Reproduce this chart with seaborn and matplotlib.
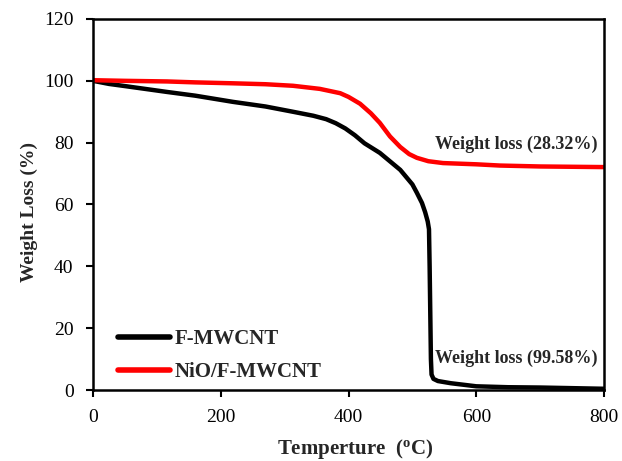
import matplotlib
matplotlib.use("Agg")
import matplotlib.pyplot as plt
import seaborn as sns
import pandas as pd

# F-MWCNT
temp_f = [0, 25, 50, 116, 160, 219, 270, 313, 345, 365, 380, 395, 410, 425, 449, 481, 500, 507, 515, 520, 524, 526, 527, 528, 529, 530, 533, 540, 560, 600, 650, 700, 800]
wt_f = [100, 99.0, 98.3, 96.4, 95.2, 93.2, 91.7, 90.0, 88.7, 87.6, 86.3, 84.6, 82.4, 79.8, 76.7, 71.2, 66.5, 63.8, 60.5, 57.5, 54.5, 52.0, 40.0, 25.0, 10.0, 5.0, 3.6, 2.9, 2.2, 1.2, 0.9, 0.8, 0.4]

# NiO/F-MWCNT
temp_n = [0, 50, 116, 160, 219, 270, 313, 355, 387, 400, 418, 435, 449, 465, 481, 495, 507, 525, 548, 600, 637, 700, 800]
wt_n = [100.2, 100.0, 99.8, 99.5, 99.2, 98.9, 98.4, 97.4, 96.0, 94.8, 92.6, 89.5, 86.4, 82.0, 78.6, 76.3, 75.1, 74.0, 73.4, 73.0, 72.6, 72.3, 72.1]

labels = ["F-MWCNT", "NiO/F-MWCNT"]
colors = ["#000000", "#ff0000"]

df = pd.concat([
    pd.DataFrame({"T": temp_f, "W": wt_f, "Sample": labels[0]}),
    pd.DataFrame({"T": temp_n, "W": wt_n, "Sample": labels[1]}),
])

sns.set_style("white")
plt.rcParams["font.family"] = ["Liberation Serif", "DejaVu Serif"]

fig = plt.figure(figsize=(6.22, 4.61), dpi=100)
ax = fig.add_axes([0.1495, 0.154, 0.9711 - 0.1495, 0.9588 - 0.154])

sns.lineplot(data=df, x="T", y="W", hue="Sample", palette=colors, hue_order=labels,
             linewidth=3.2, ax=ax, sort=False, estimator=None)

ax.set_xlim(0, 800)
ax.set_ylim(0, 120)
ax.set_xticks([0, 200, 400, 600, 800])
ax.set_yticks([0, 20, 40, 60, 80, 100, 120])
ax.tick_params(axis="both", which="major", direction="out", length=5, width=1.5,
               labelsize=14, colors="black", left=True, bottom=True)
ax.tick_params(axis="y", pad=9)
ax.tick_params(axis="x", pad=9)
for s in ax.spines.values():
    s.set_linewidth(1.8)
    s.set_color("black")

ax.set_xlabel("Temperture  ($\\mathregular{^o}$C)", fontsize=15, fontweight="bold")
ax.set_ylabel("Weight Loss (%)", fontsize=14, fontweight="bold")
ax.xaxis.set_label_coords(0.513, -0.128)
ax.yaxis.set_label_coords(-0.108, 0.48)

leg = ax.legend(loc="lower left", bbox_to_anchor=(0.013, -0.03), frameon=False,
                prop={"family": "Liberation Serif", "weight": "bold", "size": 15},
                handlelength=2.5, handletextpad=0.2, labelspacing=0.65)
for line in leg.get_lines():
    line.set_linewidth(4)

ax.text(662, 79.3, "Weight loss (28.32%)", ha="center", va="center", fontsize=13, fontweight="bold")
ax.text(662, 10.4, "Weight loss (99.58%)", ha="center", va="center", fontsize=13, fontweight="bold")

fig.savefig("out.png", dpi=100)
